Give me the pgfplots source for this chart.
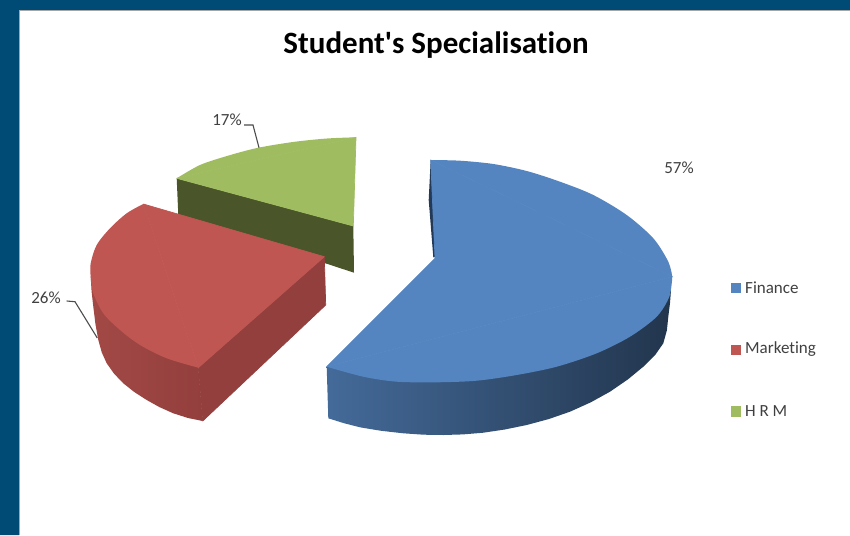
\documentclass[border=0pt]{standalone}
\usepackage{fontspec}
\usepackage{pgfplots}
\pgfplotsset{compat=1.18}
\setmainfont{Carlito}[Ligatures={TeXOff,NoCommon}]
\definecolor{frame}{HTML}{004B75}
\definecolor{blueTop}{HTML}{5585C0}
\definecolor{redTop}{HTML}{BF5652}
\definecolor{greenTop}{HTML}{9FBD60}
\definecolor{greenSide}{HTML}{4A5529}
\definecolor{redSide}{HTML}{933F3D}
\definecolor{blueSliver}{HTML}{223A57}
\definecolor{labelgray}{HTML}{404040}
\tikzset{
  lbl/.style={font=\fontsize{17}{19}\selectfont, text=labelgray},
  redFace/.style={draw=none, left color=redTop!85!black, right color=redSide},
  blueFace/.style={draw=none, left color=blueTop!80!black, middle color=blueTop!55!black, right color=blueTop!40!black},
  flat/.style={draw=#1, fill=#1, line width=.7pt, line join=round},
}
\begin{document}
\begin{tikzpicture}
\begin{axis}[
    at={(0,0)}, anchor=south west,
    scale only axis, width=850pt, height=535pt,
    xmin=0, xmax=850, ymin=0, ymax=535,
    y dir=reverse,
    hide axis,
    clip=true,
    every axis plot/.append style={forget plot},
]
% frame
\addplot[draw=none, fill=white] coordinates {(0,0) (850,0) (850,535) (0,535)};
\addplot[draw=none, fill=frame] coordinates {(0,0) (850,0) (850,10) (19,10) (19,535) (0,535)};
\addplot[draw=gray!70, line width=1pt] coordinates {(19.5,535) (19.5,10.5) (850,10.5)};

% HRM
\addplot[draw=none, fill=greenSide] coordinates {(176.7,178.3) (178.3,215) (354,272.7) (353.3,226)};
\addplot[draw=none, fill=greenTop, smooth] coordinates {
  (176.7,178.3) (200,165) (227,156) (257,148) (293,142) (327,138.5) (356,137.3)};
\addplot[flat=greenTop] coordinates {(176.7,178.3) (356,137.3) (353.3,226) (176.7,178.3)};

% Marketing
\addplot[redFace] coordinates {
  (90.7,276.7) (91.6,291.5) (93.3,306.7) (95.4,323.8) (98.3,340) (101.8,352.5) (106.7,363.3) (114.1,373.7)
  (123.3,383.3) (134.4,392.1) (146.7,400) (159.6,407.2) (173.3,413.3) (188,418) (202.7,421) (198.3,367.7)};
\addplot[flat=redSide] coordinates {(198.3,367.7) (324.3,256.7) (325.7,305) (202.7,421) (198.3,367.7)};
\addplot[draw=none, fill=redTop, smooth] coordinates {
  (143.3,204) (126.7,213.3) (110,228.3) (96.7,245) (90.7,263.3) (90.7,276.7) (93.3,293.3) (103.3,313.3)
  (120,330) (140,345) (166.7,358.3) (198.3,367.7)};
\addplot[flat=redTop] coordinates {(143.3,204) (198.3,367.7) (324.3,256.7) (143.3,204)};

% Finance
\addplot[draw=none, fill=blueSliver] coordinates {
  (430.7,160) (428.7,200) (433.3,257.3) (437,257) (434,207)};
\addplot[blueFace] coordinates {
  (326.7,366.7) (328.3,418.3) (344,423.2) (360,427.3) (381.1,430.8) (403.3,433.3) (423.5,434.7) (443.3,435)
  (463.1,434.4) (483.3,432.7) (504.8,429.5) (526.7,425) (548.6,419.1) (570,411.7) (590.6,402.4) (610,391.7)
  (627.9,379.4) (643.3,366.7) (655.1,355.1) (663.3,343.3) (666.9,330.2) (668.3,316.7) (670,303) (671,290)};
\addplot[draw=none, fill=blueTop, smooth] coordinates {
  (430.7,160) (460,160.7) (493.3,164) (526.7,171) (560,181.7) (593.3,195) (626.7,215) (653.3,238.3)
  (668.3,261.7) (672.3,276.7)};
\addplot[draw=none, fill=blueTop, smooth] coordinates {
  (672.3,276.7) (669.3,296.7) (656.7,316.7) (630,336.7) (596.7,353.3) (556.7,366.7)
  (516.7,375) (476.7,380.7) (436.7,382.3) (396.7,381.7) (363.3,376.7) (326.7,366.7)};
\addplot[flat=blueTop] coordinates {(435,258.3) (430.7,160) (672.3,276.7) (326.7,366.7) (435,258.3)};

% leader lines
\addplot[draw=black!70, line width=1.1pt] coordinates {(244,125) (253,125) (259,147.7)};
\addplot[draw=black!70, line width=1.1pt] coordinates {(66.7,301) (75,301.7) (97.3,338)};

% legend keys
\addplot[only marks, mark=square*, mark size=4.7pt, mark options={draw=blueTop, fill=blueTop}] coordinates {(735.7,287.7)};
\addplot[only marks, mark=square*, mark size=4.7pt, mark options={draw=redTop, fill=redTop}] coordinates {(735.7,349.7)};
\addplot[only marks, mark=square*, mark size=4.7pt, mark options={draw=greenTop, fill=greenTop}] coordinates {(735.7,411)};

\node[font=\bfseries\fontsize{31}{34}\selectfont, text=black] at (axis cs:436,45) {Student's Specialisation};
\node[lbl] at (axis cs:227,120) {17\%};
\node[lbl] at (axis cs:46,298) {26\%};
\node[lbl] at (axis cs:679,168) {57\%};
\node[lbl, anchor=west, inner sep=0pt] at (axis cs:745,287.5) {Finance};
\node[lbl, anchor=west, inner sep=0pt] at (axis cs:745,349.5) {Marketing};
\node[lbl, anchor=west, inner sep=0pt] at (axis cs:745,411) {H R M};
\end{axis}
\end{tikzpicture}
\end{document}
